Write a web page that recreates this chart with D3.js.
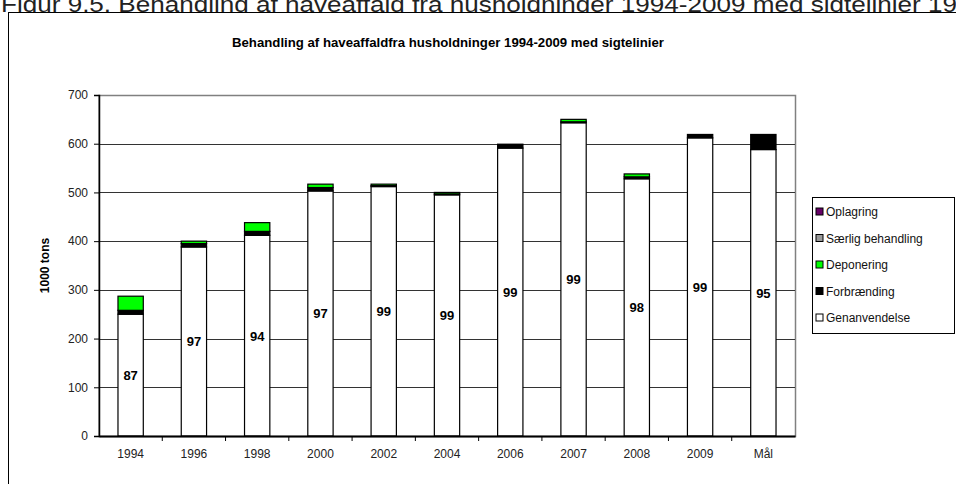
<!DOCTYPE html>
<html>
<head>
<meta charset="utf-8">
<script src="https://cdn.jsdelivr.net/npm/d3@7"></script>
<style>
  body { margin: 0; background: #fff; }
  svg { display: block; font-family: Arial, "Liberation Sans", sans-serif; }
</style>
</head>
<body>
<script>
// Data (1000 tons)
const categories = ['1994', '1996', '1998', '2000', '2002', '2004', '2006', '2007', '2008', '2009', 'Mål'];
const genanvendelse = [250, 388, 412, 503, 512, 495, 591, 643, 528, 612, 588];
const forbraending  = [8, 7, 8, 7, 2, 2, 8, 2, 4, 7, 31];
const deponering    = [29, 5, 18, 7, 3, 3, 0, 5, 6, 0, 0];
const saerlig       = [0, 0, 0, 0, 0, 0, 0, 0, 0, 0, 0];
const oplagring     = [0, 0, 0, 0, 0, 0, 0, 0, 0, 0, 0];
const pctLabels     = ['87', '97', '94', '97', '99', '99', '99', '99', '98', '99', '95'];
const yTicks = [0, 100, 200, 300, 400, 500, 600, 700];

const seriesNames = ['Genanvendelse', 'Forbrænding', 'Deponering', 'Særlig behandling', 'Oplagring'];
const seriesColors = ['#ffffff', '#000000', '#00ff00', '#999999', '#660066'];

const W = 956, H = 484;
const svg = d3.select('body').append('svg').attr('width', W).attr('height', H);

// figure caption (cut at top like the reference)
svg.append('text')
  .attr('x', 1).attr('y', 12)
  .style('font-family', '"Liberation Sans Narrow", "Arial Narrow", Arial, sans-serif')
  .style('font-size', '22px')
  .attr('fill', '#222')
  .attr('textLength', 985).attr('lengthAdjust', 'spacingAndGlyphs')
  .text('Figur 9.5. Behandling af haveaffald fra husholdninger 1994-2009 med sigtelinjer 1994');

// chart frame
svg.append('rect')
  .attr('x', 8.5).attr('y', 12.5).attr('width', 960).attr('height', 490)
  .attr('fill', '#fff').attr('stroke', '#000').attr('stroke-width', 1);

svg.append('text')
  .attr('x', 448).attr('y', 47)
  .attr('text-anchor', 'middle')
  .style('font-size', '12px').style('font-weight', 'bold')
  .attr('textLength', 432).attr('lengthAdjust', 'spacingAndGlyphs')
  .text('Behandling af haveaffaldfra husholdninger 1994-2009 med sigtelinier');

const plotLeft = 99, plotRight = 795, plotTop = 95, plotBottom = 436;

const x = d3.scaleBand().domain(categories).range([plotLeft, plotRight]).padding(0);
const y = d3.scaleLinear().domain([0, 700]).range([plotBottom, plotTop]);

// plot area border
svg.append('rect')
  .attr('x', plotLeft).attr('y', plotTop + 0.5).attr('width', plotRight - plotLeft + 0.5).attr('height', plotBottom - plotTop)
  .attr('fill', 'none').attr('stroke', '#808080').attr('stroke-width', 1.5);

// gridlines
svg.append('g')
  .selectAll('line')
  .data(yTicks.filter(d => d > 0 && d < 700))
  .join('line')
  .attr('x1', plotLeft).attr('x2', plotRight)
  .attr('y1', d => Math.round(y(d)) + 0.5).attr('y2', d => Math.round(y(d)) + 0.5)
  .attr('stroke', '#333').attr('stroke-width', 1);

// stacked bars
const rows = categories.map((c, i) => ({
  cat: c,
  Genanvendelse: genanvendelse[i],
  'Forbrænding': forbraending[i],
  Deponering: deponering[i],
  'Særlig behandling': saerlig[i],
  Oplagring: oplagring[i]
}));
const stacked = d3.stack().keys(seriesNames)(rows);
const barW = x.bandwidth() / 2.5;

svg.append('g')
  .selectAll('g')
  .data(stacked)
  .join('g')
  .attr('fill', (d, i) => seriesColors[i])
  .selectAll('rect')
  .data(d => d.filter(s => s[1] - s[0] > 0))
  .join('rect')
  .attr('x', d => x(d.data.cat) + (x.bandwidth() - barW) / 2)
  .attr('width', barW)
  .attr('y', d => y(d[1]))
  .attr('height', d => y(d[0]) - y(d[1]))
  .attr('stroke', '#000').attr('stroke-width', 1.2);

// percentage labels in middle of white segment
svg.append('g')
  .selectAll('text')
  .data(categories)
  .join('text')
  .attr('x', d => x(d) + x.bandwidth() / 2)
  .attr('y', (d, i) => y(genanvendelse[i] / 2) + 5)
  .attr('text-anchor', 'middle')
  .style('font-size', '13px').style('font-weight', 'bold')
  .text((d, i) => pctLabels[i]);

// axes
const yAxis = d3.axisLeft(y).tickValues(yTicks).tickSize(5).tickPadding(6);
const gy = svg.append('g').attr('transform', `translate(${plotLeft},0)`).call(yAxis);
gy.select('.domain').attr('stroke', '#000').attr('stroke-width', 1.5);
gy.selectAll('.tick line').attr('stroke', '#000');
gy.selectAll('.tick text').style('font-size', '12px').attr('fill', '#222').style('font-family', 'Arial, "Liberation Sans", sans-serif');

const xAxis = d3.axisBottom(x).tickSize(0).tickPadding(13);
const gx = svg.append('g').attr('transform', `translate(0,${plotBottom})`).call(xAxis);
gx.select('.domain').attr('stroke', '#000').attr('stroke-width', 2);
gx.selectAll('.tick text').style('font-size', '12px').attr('fill', '#222').style('font-family', 'Arial, "Liberation Sans", sans-serif');

// tick marks at band boundaries
svg.append('g')
  .selectAll('line')
  .data(categories.slice(1))
  .join('line')
  .attr('x1', d => x(d)).attr('x2', d => x(d))
  .attr('y1', plotBottom).attr('y2', plotBottom + 5)
  .attr('stroke', '#000');

// y axis title
svg.append('text')
  .attr('transform', `translate(49,${(plotTop + plotBottom) / 2}) rotate(-90)`)
  .attr('text-anchor', 'middle')
  .style('font-size', '12px').style('font-weight', 'bold')
  .text('1000 tons');

// legend
const legend = svg.append('g').attr('transform', 'translate(812,197)');
legend.append('rect')
  .attr('x', 0.5).attr('y', 0.5).attr('width', 142).attr('height', 136)
  .attr('fill', '#fff').attr('stroke', '#000');

const legendItems = seriesNames.map((n, i) => ({ name: n, color: seriesColors[i] })).reverse();
const li = legend.selectAll('g.item')
  .data(legendItems)
  .join('g')
  .attr('class', 'item')
  .attr('transform', (d, i) => `translate(4,${16 + i * 26.5})`);
li.append('rect')
  .attr('x', 0).attr('y', -5).attr('width', 7).attr('height', 7)
  .attr('fill', d => d.color).attr('stroke', '#000');
li.append('text')
  .attr('x', 10).attr('y', 3)
  .style('font-size', '12px').attr('fill', '#111')
  .text(d => d.name);
</script>
</body>
</html>
